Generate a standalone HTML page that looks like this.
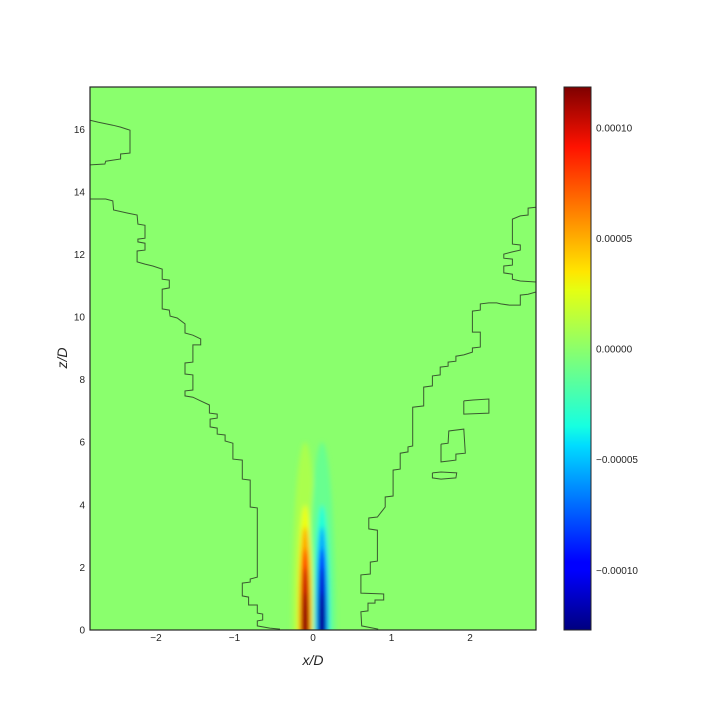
<!DOCTYPE html>
<html><head><meta charset="utf-8"><style>
html,body{margin:0;padding:0;background:#fff;overflow:hidden;width:720px;height:720px;}
svg{display:block;}
svg text{font-family:"Liberation Sans",sans-serif;fill:#262626;}
</style></head><body>
<svg id="chart" width="720" height="720" xmlns="http://www.w3.org/2000/svg">
<defs>
<filter id="blur" x="-100%" y="-100%" width="300%" height="300%"><feGaussianBlur stdDeviation="2.5"/></filter>
<clipPath id="plotclip"><rect x="90" y="87" width="446" height="543"/></clipPath>
<linearGradient id="jetgrad" x1="0" y1="1" x2="0" y2="0">
<stop offset="0" stop-color="#00007f"/><stop offset="0.11" stop-color="#0000ff"/><stop offset="0.125" stop-color="#0000ff"/>
<stop offset="0.34" stop-color="#00dcff"/><stop offset="0.375" stop-color="#16ffe1"/><stop offset="0.5" stop-color="#7dff7a"/>
<stop offset="0.625" stop-color="#e4ff13"/><stop offset="0.66" stop-color="#ffe600"/><stop offset="0.89" stop-color="#ff1200"/>
<stop offset="1" stop-color="#7f0000"/>
</linearGradient>
</defs>
<g id="plot" clip-path="url(#plotclip)"></g>
<rect x="90" y="87" width="446" height="543" fill="none" stroke="#262626" stroke-width="1.2"/>
<g id="axes"></g>
<rect x="564" y="87" width="27" height="543" fill="url(#jetgrad)" stroke="#262626" stroke-width="1"/>
<text x="313" y="665" font-size="14" text-anchor="middle" font-style="italic">x/D</text>
<text x="0" y="0" font-size="14" text-anchor="middle" font-style="italic" transform="translate(67,358) rotate(-90)">z/D</text>
</svg>
<script>
const xTicks=[-2,-1,0,1,2];
const zTicks=[0,2,4,6,8,10,12,14,16];
const cbTicks=[0.0001,0.00005,0,-0.00005,-0.0001];
const cbLabels=["0.00010","0.00005","0.00000","\u22120.00005","\u22120.00010"];
const lobeX=[-0.10,0.115];
const lobeAmp=[0.000120,-0.000127];
const levelFrac=[0.08,0.25,0.45,0.7,0.88,1.0];
const levelHalfWidth=[0.17,0.1,0.075,0.06,0.045,0.035];
const levelTop=[6.0,4.0,3.3,2.6,2.0,1.2];
const leftIsland=[[-2.84,16.29],[-2.74,16.23],[-2.55,16.13],[-2.45,16.07],[-2.33,15.97],[-2.33,15.24],[-2.45,15.21],[-2.45,15.05],[-2.64,14.98],[-2.65,14.89],[-2.84,14.86]];
const leftContour=[[-2.84,13.77],[-2.64,13.77],[-2.55,13.71],[-2.54,13.42],[-2.36,13.32],[-2.24,13.26],[-2.23,12.97],[-2.14,12.93],[-2.14,12.52],[-2.23,12.49],[-2.23,12.40],[-2.14,12.36],[-2.14,12.14],[-2.24,12.11],[-2.24,11.76],[-2.14,11.69],[-2.04,11.63],[-1.92,11.53],[-1.92,11.21],[-1.83,11.18],[-1.83,10.93],[-1.92,10.89],[-1.92,10.26],[-1.83,10.22],[-1.82,10.03],[-1.73,9.97],[-1.63,9.78],[-1.63,9.49],[-1.53,9.42],[-1.43,9.30],[-1.43,9.11],[-1.53,9.11],[-1.53,8.56],[-1.63,8.53],[-1.63,8.18],[-1.53,8.15],[-1.53,7.67],[-1.63,7.64],[-1.63,7.48],[-1.53,7.44],[-1.43,7.32],[-1.32,7.19],[-1.32,6.93],[-1.22,6.90],[-1.22,6.77],[-1.31,6.74],[-1.31,6.49],[-1.22,6.45],[-1.22,6.26],[-1.12,6.23],[-1.12,6.04],[-1.02,5.97],[-1.02,5.46],[-0.90,5.43],[-0.90,4.82],[-0.80,4.79],[-0.80,3.93],[-0.71,3.90],[-0.71,1.69],[-0.80,1.63],[-0.80,1.53],[-0.90,1.50],[-0.90,1.09],[-0.82,1.05],[-0.82,0.80],[-0.71,0.80],[-0.71,0.54],[-0.64,0.51],[-0.64,0.32],[-0.71,0.29],[-0.71,0.13],[-0.55,0.06],[-0.42,0.03]];
const rightContour=[[0.83,0.03],[0.62,0.13],[0.61,0.58],[0.70,0.61],[0.70,0.86],[0.79,0.86],[0.79,0.96],[0.90,0.96],[0.90,1.15],[0.61,1.18],[0.61,1.76],[0.73,1.79],[0.73,2.17],[0.82,2.20],[0.82,3.19],[0.71,3.23],[0.71,3.58],[0.82,3.61],[0.92,3.93],[0.92,4.25],[1.02,4.28],[1.02,5.11],[1.11,5.14],[1.11,5.65],[1.21,5.69],[1.21,5.85],[1.27,5.88],[1.27,7.12],[1.41,7.16],[1.41,7.76],[1.52,7.80],[1.52,8.12],[1.62,8.15],[1.62,8.40],[1.72,8.43],[1.72,8.56],[1.82,8.59],[1.82,8.75],[1.92,8.79],[2.03,8.88],[2.03,9.01],[2.13,9.04],[2.13,9.52],[2.03,9.52],[2.03,10.19],[2.13,10.22],[2.13,10.42],[2.24,10.45],[2.34,10.45],[2.39,10.42],[2.50,10.38],[2.64,10.38],[2.64,10.70],[2.74,10.73],[2.84,10.80]];
const rightPocket=[[2.84,13.51],[2.74,13.48],[2.74,13.26],[2.64,13.23],[2.54,13.13],[2.54,12.33],[2.64,12.30],[2.64,12.14],[2.54,12.08],[2.43,12.01],[2.43,11.88],[2.54,11.85],[2.54,11.66],[2.43,11.63],[2.43,11.41],[2.54,11.37],[2.54,11.21],[2.64,11.15],[2.84,11.12]];
const island1=[[1.92,7.32],[2.04,7.35],[2.24,7.38],[2.24,6.93],[1.92,6.90],[1.92,7.32]];
const island2=[[1.63,5.94],[1.72,5.97],[1.73,6.36],[1.92,6.42],[1.94,5.65],[1.82,5.62],[1.82,5.43],[1.73,5.40],[1.63,5.37],[1.63,5.94]];
const island3=[[1.52,5.02],[1.63,5.05],[1.83,5.02],[1.82,4.86],[1.63,4.82],[1.52,4.86],[1.52,5.02]];

const NS="http://www.w3.org/2000/svg";
const X0=-2.84,X1=2.84,Z0=0,Z1=17.35;
function sx(x){return 90+(x-X0)/(X1-X0)*446;}
function sz(z){return 630-(z-Z0)/(Z1-Z0)*543;}
const VMIN=-0.000127,VMAX=0.0001185;
function cbY(v){return 630-(v-VMIN)/(VMAX-VMIN)*543;}
function interp(t,xs,ys){
  if(t<=xs[0])return ys[0];
  for(let i=1;i<xs.length;i++){if(t<=xs[i]){const f=(t-xs[i-1])/(xs[i]-xs[i-1]);return ys[i-1]+f*(ys[i]-ys[i-1]);}}
  return ys[ys.length-1];
}
function jet(t){
  const r=interp(t,[0,0.35,0.66,0.89,1],[0,0,1,1,0.5]);
  const g=interp(t,[0,0.125,0.375,0.64,0.91,1],[0,0,1,1,0,0]);
  const b=interp(t,[0,0.11,0.34,0.65,1],[0.5,1,1,0,0]);
  return `rgb(${Math.round(r*255)},${Math.round(g*255)},${Math.round(b*255)})`;
}
function jetV(v){return jet((v-VMIN)/(VMAX-VMIN));}
const plot=document.getElementById('plot');
const axes=document.getElementById('axes');
const bg=document.createElementNS(NS,'rect');


bg.setAttribute('x',90);bg.setAttribute('y',87);bg.setAttribute('width',446);bg.setAttribute('height',543);
bg.setAttribute('fill',jetV(0));
plot.appendChild(bg);
const lobes=document.createElementNS(NS,'g');
lobes.setAttribute('filter','url(#blur)');
plot.appendChild(lobes);
for(let k=0;k<levelFrac.length;k++){
  for(let i=0;i<lobeX.length;i++){
    const e=document.createElementNS(NS,'ellipse');
    
    
    const cx=sx(lobeX[i]);
    e.setAttribute('cx',cx);
    e.setAttribute('cy',sz(0));
    e.setAttribute('rx',sx(lobeX[i]+levelHalfWidth[k])-cx);
    e.setAttribute('ry',sz(0)-sz(levelTop[k]));
    e.setAttribute('fill',jetV(lobeAmp[i]*levelFrac[k]));
    lobes.appendChild(e);
  }
}
function line(pts,name){
  const p=document.createElementNS(NS,'polyline');
  
  
  p.setAttribute('points',pts.map(q=>sx(q[0]).toFixed(1)+','+sz(q[1]).toFixed(1)).join(' '));
  p.setAttribute('fill','none');
  p.setAttribute('stroke','#3a5a30');
  p.setAttribute('stroke-width','1');
  plot.appendChild(p);
}
line(leftIsland,'zero-contour-left-island');
line(leftContour,'zero-contour-left');
line(rightContour,'zero-contour-right');
line(rightPocket,'zero-contour-right-pocket');
line(island1,'zero-contour-island-1');
line(island2,'zero-contour-island-2');
line(island3,'zero-contour-island-3');
xTicks.forEach(v=>{
  const t=document.createElementNS(NS,'text');
  
  
  t.setAttribute('x',sx(v));t.setAttribute('y',641);
  t.setAttribute('font-size','10');t.setAttribute('text-anchor','middle');
  t.textContent=v<0?'\u2212'+(-v):String(v);
  axes.appendChild(t);
});
zTicks.forEach(v=>{
  const t=document.createElementNS(NS,'text');
  
  
  t.setAttribute('x',85);t.setAttribute('y',sz(v)+3.5);
  t.setAttribute('font-size','10');t.setAttribute('text-anchor','end');
  t.textContent=String(v);
  axes.appendChild(t);
});
cbTicks.forEach((v,i)=>{
  const t=document.createElementNS(NS,'text');
  
  
  t.setAttribute('x',596);t.setAttribute('y',cbY(v)+3.5);
  t.setAttribute('font-size','10');
  t.textContent=cbLabels[i];
  axes.appendChild(t);
});
</script>
</body></html>
